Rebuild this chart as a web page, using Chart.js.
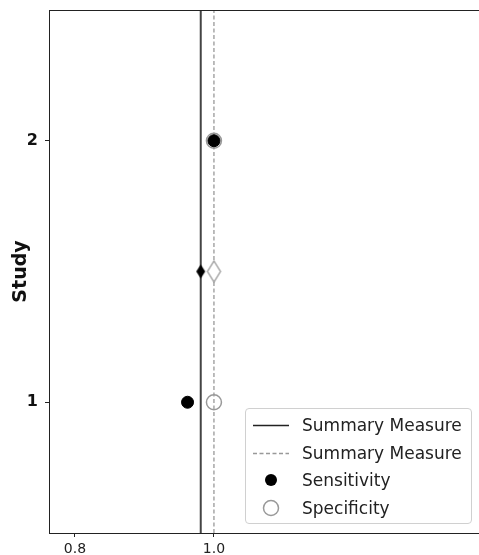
<!DOCTYPE html>
<html>
<head>
<meta charset="UTF-8">
<style>
  html, body { margin: 0; padding: 0; background: #fff; overflow: hidden; }
  #wrap { position: relative; width: 479px; height: 555px; }
  #grafica { display: block; }
  #legenda {
    position: absolute; left: 245px; top: 408px; width: 227px; height: 116px;
    border: 1px solid #d0d0d0; border-radius: 4px; background: rgba(255,255,255,0.85);
    font-family: "DejaVu Sans", sans-serif; font-size: 17px; color: #222;
    box-sizing: border-box;
  }
  .fila { position: absolute; left: 0; height: 24px; width: 100%; }
  .fila span { position: absolute; left: 56px; top: 0; line-height: 24px; }
  .fila canvas { position: absolute; left: 6px; top: 0; }
</style>
</head>
<body>
<div id="wrap">
  <canvas id="grafica" width="479" height="555"></canvas>
  <div id="legenda"></div>
</div>
<script src="https://cdn.jsdelivr.net/npm/chart.js@4.4.0/dist/chart.umd.min.js"></script>
<script>
// datos
const studies = [1, 2];
const sensitivity = [0.962, 1.0];
const specificity = [1.0, 1.0];
const summarySens = 0.981;
const summarySpec = 1.0;
const summaryY = 1.5;
const xTicks = [0.8, 1.0];
const yTicks = [1, 2];
const xRange = [0.7626, 1.3815];
const yRange = [0.5, 2.5];

// diamante delgado (marker 'd' de matplotlib)
function diamante(w, h, fill, stroke) {
    const c = document.createElement('canvas');
    c.width = w + 4; c.height = h + 4;
    const ctx = c.getContext('2d');
    ctx.beginPath();
    ctx.moveTo(c.width / 2, 2);
    ctx.lineTo(c.width - 2, c.height / 2);
    ctx.lineTo(c.width / 2, c.height - 2);
    ctx.lineTo(2, c.height / 2);
    ctx.closePath();
    if (fill) { ctx.fillStyle = fill; ctx.fill(); }
    if (stroke) { ctx.strokeStyle = stroke; ctx.lineWidth = 1.3; ctx.stroke(); }
    return c;
}

const marco = {
    id: 'marco',
    afterDraw(chart) {
        const a = chart.chartArea, ctx = chart.ctx;
        ctx.save();
        ctx.strokeStyle = '#222';
        ctx.lineWidth = 1;
        ctx.beginPath();
        ctx.moveTo(a.left, a.top + 0.5);
        ctx.lineTo(a.right, a.top + 0.5);
        ctx.stroke();
        ctx.restore();
    }
};

new Chart(document.getElementById('grafica'), {
    type: 'scatter',
    data: {
        datasets: [
            {
                label: 'Summary Measure',
                type: 'line',
                data: [{x: summarySens, y: yRange[0]}, {x: summarySens, y: yRange[1]}],
                borderColor: '#444', borderWidth: 2, pointRadius: 0, order: 5
            },
            {
                label: 'Summary Measure',
                type: 'line',
                data: [{x: summarySpec, y: yRange[0]}, {x: summarySpec, y: yRange[1]}],
                borderColor: '#999', borderWidth: 1.3, borderDash: [4, 2.5], pointRadius: 0, order: 4
            },
            {
                label: 'Sensitivity',
                data: studies.map((s, i) => ({x: sensitivity[i], y: s})),
                backgroundColor: '#000', borderColor: '#000', pointRadius: 6, pointHoverRadius: 6, order: 1
            },
            {
                label: 'Specificity',
                data: studies.map((s, i) => ({x: specificity[i], y: s})),
                backgroundColor: 'rgba(255,255,255,0)', borderColor: '#999', borderWidth: 1.5,
                pointRadius: 7.5, pointHoverRadius: 7.5, order: 2
            },
            {
                label: 'sens summary',
                data: [{x: summarySens, y: summaryY}],
                pointStyle: diamante(9, 14, '#000', null), order: 1
            },
            {
                label: 'spec summary',
                data: [{x: summarySpec, y: summaryY}],
                pointStyle: diamante(13, 21, '#fff', '#999'), order: 2
            }
        ]
    },
    options: {
        responsive: false,
        animation: false,
        layout: { autoPadding: false, padding: { top: 10, right: 0, left: 0, bottom: 0 } },
        plugins: { legend: { display: false }, tooltip: { enabled: false } },
        scales: {
            x: {
                type: 'linear', min: xRange[0], max: xRange[1],
                afterBuildTicks: ax => { ax.ticks = xTicks.map(v => ({value: v})); },
                afterFit: ax => { ax.height = 22; ax.paddingLeft = 0; ax.paddingRight = 0; },
                ticks: {
                    callback: v => v.toFixed(1), color: '#222', padding: 4,
                    font: { family: 'DejaVu Sans', size: 14 }
                },
                grid: { drawOnChartArea: false, tickLength: 4, color: '#222' },
                border: { color: '#222', width: 1 }
            },
            y: {
                type: 'linear', min: yRange[0], max: yRange[1],
                afterBuildTicks: ax => { ax.ticks = yTicks.map(v => ({value: v})); },
                afterFit: ax => { ax.width = 49; ax.paddingTop = 0; ax.paddingBottom = 0; },
                ticks: {
                    callback: v => String(v), color: '#111', padding: 7,
                    font: { family: 'DejaVu Sans', size: 16, weight: 'bold' }
                },
                title: {
                    display: true, text: 'Study', color: '#111', padding: { top: 10, bottom: 0 },
                    font: { family: 'DejaVu Sans', size: 19, weight: 'bold' }
                },
                grid: { drawOnChartArea: false, tickLength: 4, color: '#222' },
                border: { color: '#222', width: 1 }
            }
        }
    },
    plugins: [marco]
});

// leyenda dentro del grafico
const itemsLeyenda = [
    { texto: 'Summary Measure', tipo: 'solid' },
    { texto: 'Summary Measure', tipo: 'dash' },
    { texto: 'Sensitivity', tipo: 'dot' },
    { texto: 'Specificity', tipo: 'ring' }
];
const leg = document.getElementById('legenda');
itemsLeyenda.forEach((it, i) => {
    const fila = document.createElement('div');
    fila.className = 'fila';
    fila.style.top = (4 + i * 27.7) + 'px';
    const c = document.createElement('canvas');
    c.width = 40; c.height = 24;
    const ctx = c.getContext('2d');
    if (it.tipo === 'solid' || it.tipo === 'dash') {
        ctx.strokeStyle = it.tipo === 'solid' ? '#222' : '#999';
        ctx.lineWidth = it.tipo === 'solid' ? 1.5 : 1.3;
        if (it.tipo === 'dash') ctx.setLineDash([4, 2.5]);
        ctx.beginPath(); ctx.moveTo(1, 12.5); ctx.lineTo(37, 12.5); ctx.stroke();
    } else if (it.tipo === 'dot') {
        ctx.fillStyle = '#000';
        ctx.beginPath(); ctx.arc(19, 12, 6, 0, Math.PI * 2); ctx.fill();
    } else {
        ctx.strokeStyle = '#999'; ctx.lineWidth = 1.5;
        ctx.beginPath(); ctx.arc(19, 12, 7.5, 0, Math.PI * 2); ctx.stroke();
    }
    const t = document.createElement('span');
    t.textContent = it.texto;
    fila.appendChild(c);
    fila.appendChild(t);
    leg.appendChild(fila);
});
</script>
</body>
</html>
